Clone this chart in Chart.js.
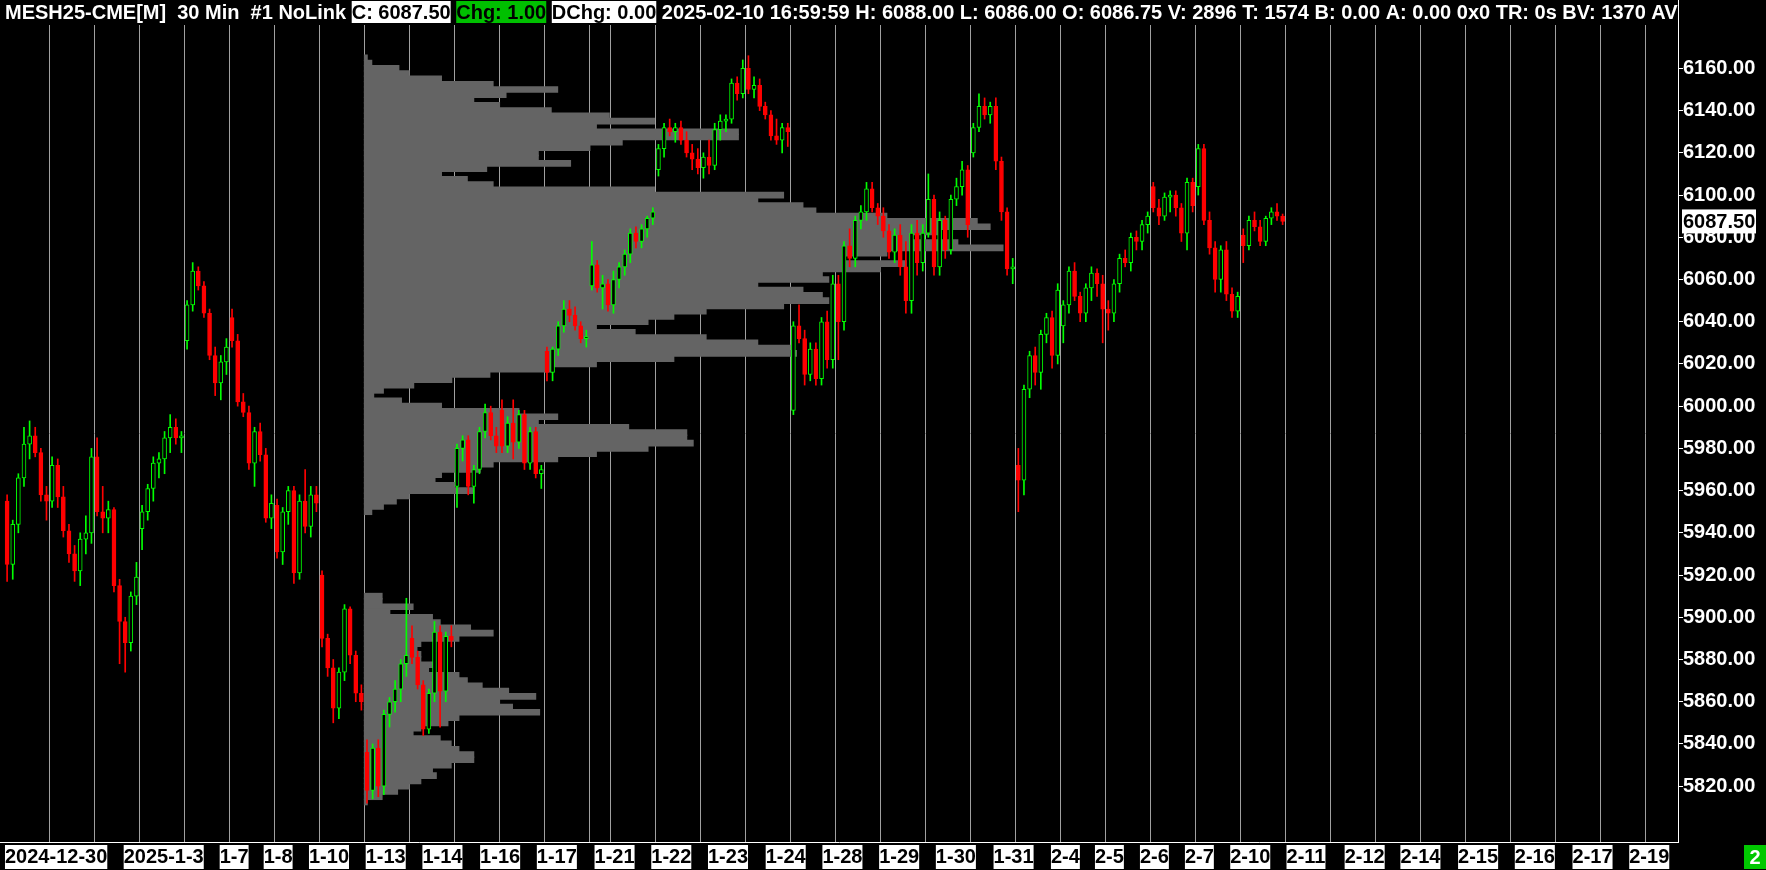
<!DOCTYPE html>
<html>
<head>
<meta charset="utf-8">
<title>MESH25-CME[M] 30 Min</title>
<script src="https://cdn.jsdelivr.net/npm/chart.js@4.4.1/dist/chart.umd.min.js"></script>
<style>
  html, body { margin: 0; padding: 0; background: #000; overflow: hidden; }
  #chart { display: block; }
</style>
</head>
<body>
<canvas id="chart" width="1766" height="870"></canvas>
<script>
// trading sessions on the chart and how many 30 min bars each one holds
var sessionDates = ['12-30','12-31','1-2','1-3','1-6','1-7','1-8','1-10','1-13','1-14','1-15','1-16','1-17',
                    '1-20','1-21','1-22','1-23','1-24','1-27','1-28','1-29','1-30','1-31','2-3','2-4','2-5','2-6','2-7','2-10'];
var sessionBars = [46,46,46,46,46,46,46,46,46,46,46,46,46, 22, 46,46,46,46,46,46,46,46,46,46,46,46,46,46,46];
var futureDates = ['2-11','2-12','2-13','2-14','2-15','2-16','2-17','2-18','2-19'];

// candles, one row per session
var opens = [
  [5955,5925,5944,5966,5982,5986,5978,5958],
  [5955,5972,5957,5941,5930,5922,5937,5940],
  [5976,5950,5947,5951,5915,5898,5888,5910],
  [5942,5950,5961,5973,5975,5985,5990,5985],
  [6031,6048,6064,6057,6044,6024,6011,6021],
  [6042,6031,6002,5997,5973,5988,5977,5947],
  [5953,5931,5950,5960,5921,5955,5943,5958],
  [5920,5890,5876,5857,5874,5904,5882,5864],
  [5836,5818,5838,5820,5854,5860,5866,5878],
  [5890,5881,5868,5847,5864,5893,5865,5891],
  [5962,5980,5984,5962,5970,5988,5997,5986],
  [5998,5981,5992,5983,5996,5973,5988,5968],
  [6026,6016,6027,6038,6046,6043,6038,6032],
  [6057,6067,6056,6058],
  [6048,6060,6066,6072,6082,6078,6084,6089],
  [6112,6122,6132,6130,6132,6126,6120,6117],
  [6113,6118,6114,6131,6135,6136,6153,6148],
  [6160,6150,6152,6142,6138,6128,6126,6132],
  [5998,6038,6032,6015,6027,6013,6040,6022],
  [6058,6040,6076,6070,6088,6092,6103,6094],
  [6090,6083,6073,6081,6066,6050,6082,6068],
  [6082,6098,6066,6088,6074,6098,6104,6112],
  [6120,6132,6142,6138,6142,6116,6092,6065],
  [5972,5965,6008,6024,6016,6034,6042,6024],
  [6038,6048,6064,6052,6044,6056,6063,6058],
  [6046,6044,6058,6070,6068,6080,6078,6086],
  [6104,6094,6090,6099,6100,6094,6082,6106],
  [6104,6122,6088,6075,6060,6074,6053,6045],
  [6081,6076,6088,6085,6078,6089,6092,6090]
];
var highs = [
  [5958,5946,5968,5990,5993,5990,5980,5962],
  [5976,5975,5962,5944,5934,5940,5948,5980],
  [5985,5962,5955,5952,5918,5900,5912,5926],
  [5953,5963,5976,5978,5988,5996,5994,5988],
  [6050,6068,6066,6059,6046,6028,6024,6032],
  [6046,6034,6006,6000,5990,5992,5980,5958],
  [5956,5952,5962,5962,5958,5970,5962,5962],
  [5922,5892,5880,5876,5906,5905,5884,5868],
  [5842,5840,5842,5856,5862,5870,5880,5909],
  [5896,5884,5870,5866,5898,5896,5893,5896],
  [5982,5986,5986,5972,5990,6001,6000,5990],
  [6003,5995,6003,5998,5998,5990,5990,5972],
  [6028,6028,6040,6050,6050,6047,6040,6036],
  [6078,6069,6062,6060],
  [6064,6068,6074,6084,6085,6086,6090,6094],
  [6124,6134,6136,6134,6135,6130,6124,6122],
  [6120,6126,6134,6138,6138,6155,6156,6164],
  [6166,6156,6155,6144,6140,6136,6134,6134],
  [6040,6048,6036,6030,6030,6042,6045,6062],
  [6062,6078,6084,6090,6095,6106,6106,6096],
  [6094,6086,6084,6086,6078,6086,6088,6086],
  [6110,6100,6092,6090,6100,6108,6116,6114],
  [6134,6148,6146,6144,6146,6118,6094,6070],
  [5980,6010,6026,6028,6036,6044,6045,6058],
  [6050,6066,6068,6054,6058,6066,6065,6062],
  [6050,6060,6072,6074,6082,6083,6088,6092],
  [6106,6098,6101,6102,6102,6096,6108,6108],
  [6124,6124,6092,6078,6076,6078,6056,6054],
  [6084,6090,6092,6088,6090,6094,6096,6091]
];
var lows = [
  [5917,5918,5940,5962,5975,5976,5955,5946],
  [5952,5952,5938,5926,5917,5915,5930,5935],
  [5948,5940,5940,5912,5878,5874,5884,5906],
  [5932,5946,5955,5966,5968,5978,5982,5978],
  [6027,6045,6055,6042,6022,6005,6003,6015],
  [6028,6000,5995,5970,5962,5974,5945,5942],
  [5928,5925,5944,5916,5918,5940,5938,5950],
  [5886,5872,5850,5852,5870,5878,5860,5856],
  [5812,5814,5815,5816,5848,5855,5860,5872],
  [5878,5866,5844,5845,5860,5848,5860,5886],
  [5952,5974,5958,5954,5968,5985,5984,5978],
  [5978,5978,5975,5980,5970,5970,5966,5961],
  [6012,6012,6024,6035,6040,6036,6030,6028],
  [6055,6054,6046,6045],
  [6044,6056,6062,6068,6075,6075,6080,6086],
  [6109,6118,6128,6125,6124,6118,6112,6110],
  [6108,6110,6112,6126,6130,6134,6145,6146],
  [6148,6146,6140,6136,6126,6124,6120,6123],
  [5996,6030,6010,6012,6010,6010,6018,6018],
  [6022,6036,6066,6066,6084,6088,6092,6086],
  [6080,6070,6068,6062,6044,6044,6062,6064],
  [6080,6062,6062,6070,6072,6095,6100,6080],
  [6118,6130,6136,6134,6112,6088,6062,6058],
  [5950,5958,6004,6010,6008,6030,6018,6020],
  [6030,6044,6050,6040,6040,6050,6052,6030],
  [6036,6040,6054,6066,6064,6074,6074,6082],
  [6092,6086,6088,6092,6090,6078,6074,6092],
  [6100,6086,6072,6054,6054,6050,6042,6042],
  [6068,6074,6083,6076,6076,6086,6088,6086]
];
var closes = [
  [5925,5944,5966,5982,5986,5978,5958,5955],
  [5972,5957,5941,5930,5922,5937,5940,5976],
  [5950,5947,5951,5915,5898,5888,5910,5919],
  [5950,5961,5973,5975,5985,5990,5985,5986],
  [6048,6064,6057,6044,6024,6011,6021,6028],
  [6031,6002,5997,5973,5988,5977,5947,5954],
  [5931,5950,5960,5921,5955,5943,5958,5954],
  [5890,5876,5857,5874,5904,5882,5864,5860],
  [5818,5838,5820,5854,5860,5866,5878,5882],
  [5881,5868,5847,5864,5893,5865,5891,5889],
  [5980,5984,5962,5970,5988,5997,5986,5981],
  [5981,5992,5983,5996,5973,5988,5968,5970],
  [6016,6027,6038,6046,6043,6038,6032,6033],
  [6067,6056,6058,6048],
  [6060,6066,6072,6082,6078,6084,6089,6092],
  [6122,6132,6130,6132,6126,6120,6117,6113],
  [6118,6114,6131,6135,6136,6153,6148,6160],
  [6150,6152,6142,6138,6128,6126,6132,6130],
  [6038,6032,6015,6027,6013,6040,6022,6058],
  [6040,6076,6070,6088,6092,6103,6094,6090],
  [6083,6073,6081,6066,6050,6082,6068,6082],
  [6098,6066,6088,6074,6098,6104,6112,6086],
  [6132,6142,6138,6142,6116,6092,6065,6066],
  [5965,6008,6024,6016,6034,6042,6024,6055],
  [6048,6064,6052,6044,6056,6063,6058,6046],
  [6044,6058,6070,6068,6080,6078,6086,6090],
  [6094,6090,6099,6100,6094,6082,6106,6095],
  [6122,6088,6075,6060,6074,6053,6045,6052],
  [6076,6088,6085,6078,6089,6092,6090,6087.5]
];

// volume profile from 1-13 on (relative volume, POC = 100)
var profileStartDate = '1-13';
var profilePrices = [
  6165,6162.5,6160,6157.5,6155,6152.5,6150,6147.5,6145,6142.5,
  6140,6137.5,6135,6132.5,6130,6127.5,6125,6122.5,6120,6117.5,
  6115,6112.5,6110,6107.5,6105,6102.5,6100,6097.5,6095,6092.5,
  6090,6087.5,6085,6082.5,6080,6077.5,6075,6072.5,6070,6067.5,
  6065,6062.5,6060,6057.5,6055,6052.5,6050,6047.5,6045,6042.5,
  6040,6037.5,6035,6032.5,6030,6027.5,6025,6022.5,6020,6017.5,
  6015,6012.5,6010,6007.5,6005,6002.5,6000,5997.5,5995,5992.5,
  5990,5987.5,5985,5982.5,5980,5977.5,5975,5972.5,5970,5967.5,
  5965,5962.5,5960,5957.5,5955,5952.5,5950,
  5910,5907.5,5905,5902.5,5900,5897.5,5895,5892.5,5890,5887.5,
  5885,5882.5,5880,5877.5,5875,5872.5,5870,5867.5,5865,5862.5,
  5860,5857.5,5855,5852.5,5850,5847.5,5845,5842.5,5840,5837.5,
  5835,5832.5,5830,5827.5,5825,5822.5,5820,5817.5,5815,5812.5
];
var profileVolumes = [
  0.5,1.2,5.4,7,12,20,30,22,17,21,
  29,38,45,36,58,58,40,35,27,27,
  32,19,12,16,20,45,65,61,68,70,
  81,95,97,89,85,92,99,81,74,84,
  80,71,72,61,68,71,72,65,53,48,
  44,36,42,53,61,66,67,48,36,29,
  19.5,13.6,7.7,3,1.5,5.8,12,24,30,27,
  41,50,50,51,44,36,30,20,18,12,
  11,14,17,7,5,3,1.2,
  2.8,2.8,7.6,4,10.6,11.8,16.5,20,14.7,8.8,
  8.2,8.8,8.8,11,10,14.7,16,18.3,22.4,26.6,
  21,23,27.2,14.7,13,8.8,7.6,11.8,13.5,14.7,
  17,17,13.5,10.6,11.2,8.8,7,5.2,2.8,0.5
];

// axis labels
var priceTicks = [5820,5840,5860,5880,5900,5920,5940,5960,5980,6000,6020,6040,6060,6080,6100,6120,6140,6160];
var dateLabels = ['2024-12-30','2025-1-3','1-7','1-8','1-10','1-13','1-14','1-16','1-17','1-21','1-22','1-23','1-24',
                  '1-28','1-29','1-30','1-31','2-4','2-5','2-6','2-7','2-10','2-11','2-12','2-14','2-15','2-16','2-17','2-19'];
var dateLabelBars = [53,163,235,280,332,390,448,507,565,624,682,740,799,857,915,973,1032,1085,1130,1176,1222,1274,1331,1391,1448,1507,1565,1624,1682];

var headerParts = [
  { text: 'MESH25-CME[M]  30 Min  #1 NoLink', fg: '#ffffff' },
  { text: 'C: 6087.50', fg: '#000000', bg: '#ffffff' },
  { text: 'Chg: 1.00', fg: '#000000', bg: '#00c000' },
  { text: 'DChg: 0.00', fg: '#000000', bg: '#ffffff' },
  { text: '2025-02-10 16:59:59 H: 6088.00 L: 6086.00 O: 6086.75 V: 2896 T: 1574 B: 0.00 A: 0.00 0x0 TR: 0s BV: 1370 AV: 1526', fg: '#ffffff' }
];

var FONT = '"Liberation Sans", Arial, sans-serif';
var UP = '#00ff00', DOWN = '#ff0000';

// bar index where every session starts
var allDates = sessionDates.concat(futureDates);
var sessionStart = {};
var startList = [];
var pos = 0;
allDates.forEach(function(d, i) {
    sessionStart[d] = pos;
    startList.push(pos);
    pos += i < sessionBars.length ? sessionBars[i] : 46;
});

var wickData = [], bodyData = [], lineColors = [], fillColors = [];
opens.forEach(function(day, s) {
    var n = day.length;
    var start = sessionStart[sessionDates[s]];
    day.forEach(function(o, k) {
        var x = start + (k + 0.5) * sessionBars[s] / n;
        var c = closes[s][k];
        wickData.push({ x: x, y: [lows[s][k], highs[s][k]] });
        bodyData.push({ x: x, y: [o, c] });
        lineColors.push(c >= o ? UP : DOWN);
        fillColors.push(c >= o ? '#000000' : DOWN);
    });
});

var PROFILE_SCALE = 6.6; // bars of width per unit of volume
var profileBase = sessionStart[profileStartDate];
var profileData = profilePrices.map(function(p, i) {
    return { y: p, x: [profileBase, profileBase + profileVolumes[i] * PROFILE_SCALE] };
});

var lastClose = closes[closes.length - 1][closes[closes.length - 1].length - 1];

var overlay = {
    id: 'overlay',
    afterDraw: function(chart) {
        var ctx = chart.ctx;
        var right = chart.chartArea.right;
        ctx.save();

        // header line
        ctx.save();
        ctx.beginPath();
        ctx.rect(0, 0, right, chart.chartArea.top);
        ctx.clip();
        ctx.font = 'bold 20px ' + FONT;
        ctx.textBaseline = 'alphabetic';
        var x = 5;
        var space = ctx.measureText(' ').width;
        headerParts.forEach(function(p) {
            var w = ctx.measureText(p.text).width;
            if (p.bg) {
                ctx.fillStyle = p.bg;
                ctx.fillRect(x, 1, w, 22);
            }
            ctx.fillStyle = p.fg;
            ctx.fillText(p.text, x, 19);
            x += w + space;
        });
        ctx.restore();

        ctx.strokeStyle = '#ffffff';
        ctx.lineWidth = 1;
        ctx.beginPath();
        ctx.moveTo(right + 0.5, 0);
        ctx.lineTo(right + 0.5, chart.chartArea.top);
        ctx.stroke();

        // last price marker
        var y = chart.scales.y.getPixelForValue(lastClose);
        ctx.fillStyle = '#ffffff';
        ctx.fillRect(right + 4, y - 12, 74, 24);
        ctx.fillStyle = '#000000';
        ctx.font = 'bold 20px ' + FONT;
        ctx.textBaseline = 'middle';
        ctx.textAlign = 'left';
        ctx.fillText(lastClose.toFixed(2), right + 5, y + 1);

        // page box
        ctx.fillStyle = '#00c800';
        ctx.fillRect(1744, 845, 22, 24);
        ctx.fillStyle = '#ffffff';
        ctx.font = 'bold 20px ' + FONT;
        ctx.textAlign = 'center';
        ctx.fillText('2', 1755, 858);
        ctx.restore();
    }
};

new Chart(document.getElementById('chart'), {
    type: 'bar',
    data: {
        datasets: [
            {
                label: 'Volume profile',
                indexAxis: 'y',
                data: profileData,
                backgroundColor: '#646464',
                borderWidth: 0,
                barThickness: 6,
                grouped: false,
                order: 3
            },
            {
                label: 'Wicks',
                data: wickData,
                backgroundColor: lineColors,
                borderWidth: 0,
                barThickness: 1,
                grouped: false,
                order: 2
            },
            {
                label: 'Bodies',
                data: bodyData,
                backgroundColor: fillColors,
                borderColor: lineColors,
                borderWidth: 1,
                borderSkipped: false,
                barThickness: 4,
                minBarLength: 2,
                grouped: false,
                order: 1
            }
        ]
    },
    options: {
        responsive: false,
        animation: false,
        devicePixelRatio: 1,
        layout: { padding: { top: 25, left: 0, right: 0, bottom: 0 } },
        plugins: {
            legend: { display: false },
            tooltip: { enabled: false }
        },
        scales: {
            x: {
                type: 'linear',
                position: 'bottom',
                min: -4.4,
                max: 1711.4,
                offset: false,
                afterBuildTicks: function(scale) {
                    var ticks = [];
                    startList.forEach(function(b) {
                        if (b > 0) ticks.push({ value: b, isGrid: true });
                    });
                    dateLabelBars.forEach(function(b, i) {
                        ticks.push({ value: b, txt: dateLabels[i] });
                    });
                    ticks.sort(function(a, b) { return a.value - b.value; });
                    scale.ticks = ticks;
                },
                afterFit: function(scale) { scale.height = 28; },
                grid: {
                    offset: false,
                    drawTicks: false,
                    lineWidth: 1,
                    color: function(c) { return c.tick && c.tick.isGrid ? '#a0a0a0' : 'rgba(0,0,0,0)'; }
                },
                border: { display: true, color: '#ffffff', width: 1 },
                ticks: {
                    autoSkip: false,
                    maxRotation: 0,
                    minRotation: 0,
                    padding: 3,
                    color: '#000000',
                    font: { family: FONT, size: 20, weight: 'bold', lineHeight: 1.2 },
                    callback: function(v, i, t) { return t[i].txt || ''; },
                    showLabelBackdrop: function(c) { return !!(c.tick && c.tick.txt); },
                    backdropColor: '#ffffff',
                    backdropPadding: 0
                }
            },
            y: {
                type: 'linear',
                position: 'right',
                min: 5804.3,
                max: 6169.8,
                afterBuildTicks: function(scale) {
                    scale.ticks = priceTicks.map(function(v) { return { value: v }; });
                },
                afterFit: function(scale) { scale.width = 88; },
                grid: {
                    offset: false,
                    drawOnChartArea: false,
                    drawTicks: true,
                    tickLength: 5,
                    color: '#ffffff'
                },
                border: { display: true, color: '#ffffff', width: 1 },
                ticks: {
                    padding: 0,
                    color: '#ffffff',
                    font: { family: FONT, size: 20, weight: 'bold' },
                    callback: function(v) { return v.toFixed(2); }
                }
            }
        }
    },
    plugins: [overlay]
});
</script>
</body>
</html>
